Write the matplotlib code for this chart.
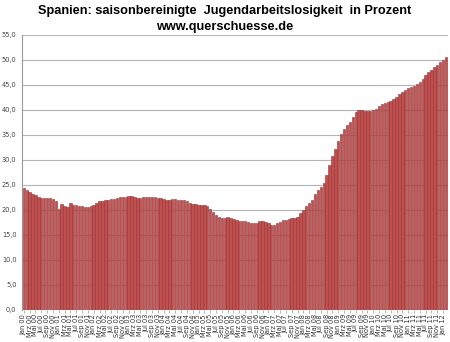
import numpy as np
import matplotlib.pyplot as plt

# Jugendarbeitslosigkeit Spanien, saisonbereinigt, monatlich Jan 2000 - Feb 2012
werte_2000 = [24.3, 24.0, 23.6, 23.2, 22.9, 22.6, 22.4, 22.4, 22.4, 22.4, 22.2, 21.8]
werte_2001 = [20.2, 21.1, 20.8, 20.6, 21.3, 21.0, 20.9, 20.8, 20.7, 20.6, 20.6, 20.7]
werte_2002 = [20.9, 21.4, 21.7, 21.8, 21.9, 22.0, 22.1, 22.2, 22.3, 22.5, 22.6, 22.6]
werte_2003 = [22.7, 22.7, 22.6, 22.3, 22.4, 22.5, 22.6, 22.6, 22.5, 22.5, 22.4, 22.3]
werte_2004 = [22.1, 22.0, 21.9, 22.2, 22.1, 22.0, 22.0, 21.9, 21.7, 21.4, 21.2, 21.1]
werte_2005 = [21.0, 21.0, 20.9, 20.7, 20.1, 19.5, 18.9, 18.5, 18.3, 18.4, 18.5, 18.3]
werte_2006 = [18.1, 18.0, 17.8, 17.7, 17.7, 17.5, 17.4, 17.3, 17.4, 17.7, 17.7, 17.6]
werte_2007 = [17.3, 17.0, 17.0, 17.3, 17.6, 18.0, 18.0, 18.1, 18.3, 18.3, 18.5, 19.3]
werte_2008 = [20.0, 20.7, 21.3, 22.0, 23.2, 24.0, 24.6, 25.4, 27.0, 29.0, 30.8, 32.2]
werte_2009 = [33.8, 35.2, 36.2, 37.0, 37.6, 38.5, 39.5, 40.0, 40.0, 39.7, 39.7, 39.8]
werte_2010 = [39.9, 40.2, 40.7, 41.1, 41.4, 41.6, 41.8, 42.1, 42.6, 43.1, 43.5, 43.9]
werte_2011 = [44.3, 44.6, 44.8, 45.2, 45.6, 46.2, 47.0, 47.5, 48.0, 48.6, 49.0, 49.5]
werte_2012 = [50.0, 50.6]

werte = (werte_2000 + werte_2001 + werte_2002 + werte_2003 + werte_2004 + werte_2005
         + werte_2006 + werte_2007 + werte_2008 + werte_2009 + werte_2010 + werte_2011
         + werte_2012)

monate = ["Jan", "Feb", "Mrz", "Apr", "Mai", "Jun", "Jul", "Aug", "Sep", "Okt", "Nov", "Dez"]
labels = ["%s %02d" % (monate[i % 12], i // 12) for i in range(len(werte))]

fig = plt.figure(figsize=(4.5, 3.42), dpi=100)
ax = fig.add_axes([0.049, 0.094, 0.946, 0.804])

x = np.arange(len(werte))
ax.bar(x, werte, width=0.82, color="#c04f4f", edgecolor="#953234", linewidth=0.4, zorder=2)

ax.set_ylim(0, 55)
ax.set_xlim(-0.6, len(werte) - 0.4)
yt = np.arange(0, 56, 5)
ax.set_yticks(yt)
ax.set_yticklabels([("%.1f" % v).replace(".", ",") for v in yt])
ax.yaxis.grid(True, color="#b4b4b4", linewidth=0.8, zorder=0)
ax.set_axisbelow(True)

ax.set_xticks(x[::2])
ax.set_xticklabels(labels[::2], rotation=90, fontsize=4.8, color="#333333")
ax.tick_params(axis="y", labelsize=4.8, length=0, pad=4, labelcolor="#444444")
ax.tick_params(axis="x", length=2, width=0.5, color="#999999", pad=1)

for s in ["top", "right", "bottom"]:
    ax.spines[s].set_visible(False)
ax.spines["left"].set_color("#999999")
ax.spines["left"].set_linewidth(0.8)

fig.text(0.5, 0.968, "Spanien: saisonbereinigte  Jugendarbeitslosigkeit  in Prozent",
         ha="center", va="center", fontsize=9.2, fontweight="bold", family="Liberation Sans")
fig.text(0.5, 0.921, "www.querschuesse.de", ha="center", va="center",
         fontsize=9.2, fontweight="bold", family="Liberation Sans")

fig.savefig("out.png", dpi=100)
